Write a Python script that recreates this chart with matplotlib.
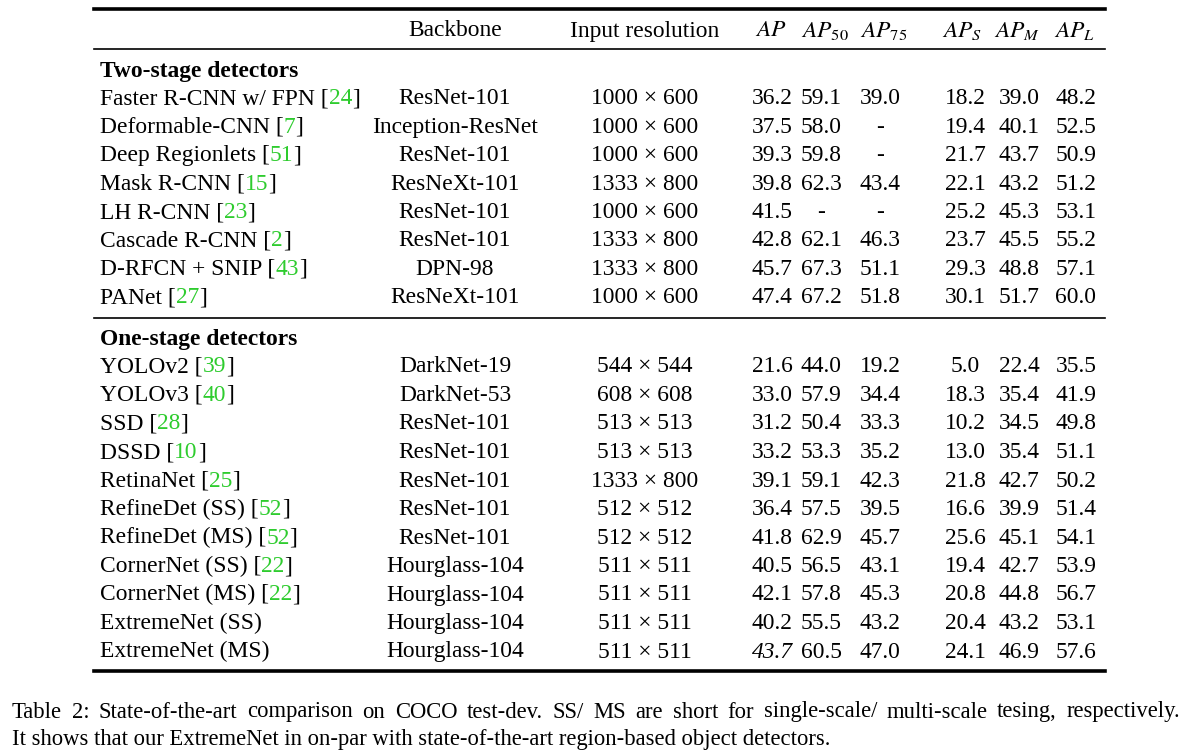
import matplotlib
matplotlib.use("Agg")
import matplotlib.pyplot as plt
from matplotlib.lines import Line2D

plt.rcParams['font.family'] = ['Liberation Serif', 'DejaVu Serif']
plt.rcParams['mathtext.fontset'] = 'stix'

W, H = 1193, 754
GREEN = '#2ecc2e'

# données du tableau
two_methods = ["Faster R-CNN w/ FPN", "Deformable-CNN", "Deep Regionlets", "Mask R-CNN",
               "LH R-CNN", "Cascade R-CNN", "D-RFCN + SNIP", "PANet"]
two_refs = ["24", "7", "51", "15", "23", "2", "43", "27"]
two_backbones = ["ResNet-101", "Inception-ResNet", "ResNet-101", "ResNeXt-101",
                 "ResNet-101", "ResNet-101", "DPN-98", "ResNeXt-101"]
two_res = ["1000 × 600", "1000 × 600", "1000 × 600", "1333 × 800",
           "1000 × 600", "1333 × 800", "1333 × 800", "1000 × 600"]
two_scores = [
    ["36.2", "59.1", "39.0", "18.2", "39.0", "48.2"],
    ["37.5", "58.0", "-", "19.4", "40.1", "52.5"],
    ["39.3", "59.8", "-", "21.7", "43.7", "50.9"],
    ["39.8", "62.3", "43.4", "22.1", "43.2", "51.2"],
    ["41.5", "-", "-", "25.2", "45.3", "53.1"],
    ["42.8", "62.1", "46.3", "23.7", "45.5", "55.2"],
    ["45.7", "67.3", "51.1", "29.3", "48.8", "57.1"],
    ["47.4", "67.2", "51.8", "30.1", "51.7", "60.0"],
]

one_methods = ["YOLOv2", "YOLOv3", "SSD", "DSSD", "RetinaNet", "RefineDet (SS)",
               "RefineDet (MS)", "CornerNet (SS)", "CornerNet (MS)",
               "ExtremeNet (SS)", "ExtremeNet (MS)"]
one_refs = ["39", "40", "28", "10", "25", "52", "52", "22", "22", None, None]
one_backbones = ["DarkNet-19", "DarkNet-53", "ResNet-101", "ResNet-101", "ResNet-101",
                 "ResNet-101", "ResNet-101", "Hourglass-104", "Hourglass-104",
                 "Hourglass-104", "Hourglass-104"]
one_res = ["544 × 544", "608 × 608", "513 × 513", "513 × 513", "1333 × 800",
           "512 × 512", "512 × 512", "511 × 511", "511 × 511", "511 × 511", "511 × 511"]
one_scores = [
    ["21.6", "44.0", "19.2", "5.0", "22.4", "35.5"],
    ["33.0", "57.9", "34.4", "18.3", "35.4", "41.9"],
    ["31.2", "50.4", "33.3", "10.2", "34.5", "49.8"],
    ["33.2", "53.3", "35.2", "13.0", "35.4", "51.1"],
    ["39.1", "59.1", "42.3", "21.8", "42.7", "50.2"],
    ["36.4", "57.5", "39.5", "16.6", "39.9", "51.4"],
    ["41.8", "62.9", "45.7", "25.6", "45.1", "54.1"],
    ["40.5", "56.5", "43.1", "19.4", "42.7", "53.9"],
    ["42.1", "57.8", "45.3", "20.8", "44.8", "56.7"],
    ["40.2", "55.5", "43.2", "20.4", "43.2", "53.1"],
    ["43.7", "60.5", "47.0", "24.1", "46.9", "57.6"],
]

headers = ["$AP$", "$AP_{50}$", "$AP_{75}$", "$AP_S$", "$AP_M$", "$AP_L$"]
caption = ["Table 2: State-of-the-art comparison on COCO test-dev.  SS/ MS are short for single-scale/ multi-scale tesing, respectively.",
           "It shows that our ExtremeNet in on-par with state-of-the-art region-based object detectors."]

fig = plt.figure(figsize=(W / 100, H / 100), dpi=100)
fig.patch.set_facecolor('white')
FS = 16.9
CFS = 16.3
BASE = 7.5  # décalage centre -> ligne de base


def px(x, y):
    return x / W, 1 - y / H


def txt(x, y, s, **kw):
    # y = centre visuel de la ligne, on aligne sur la ligne de base
    kw.setdefault('fontsize', FS)
    kw.setdefault('va', 'baseline')
    return fig.text(*px(x, y + BASE), s, **kw)


def hline(y, lw, x0=94, x1=1105):
    fig.add_artist(Line2D([x0 / W, x1 / W], [1 - y / H, 1 - y / H], color='black', lw=lw))


renderer = fig.canvas.get_renderer()


def method_cell(x, y, name, ref):
    if ref is None:
        txt(x, y, name)
        return
    t = txt(x, y, name + " [")
    x2 = t.get_window_extent(renderer).x1
    t2 = txt(x2, y, ref, color=GREEN)
    x3 = t2.get_window_extent(renderer).x1
    txt(x3, y, "]")


def justified(x0, x1, y, line, fs):
    # ligne justifiée comme dans LaTeX
    words = line.split()
    arts = [txt(0, y, w, fontsize=fs) for w in words]
    widths = [a.get_window_extent(renderer).width for a in arts]
    gap = (x1 - x0 - sum(widths)) / (len(words) - 1)
    x = x0
    for a, w in zip(arts, widths):
        a.set_position(px(x, y + BASE))
        x += w + gap


col_x = [772, 821, 880, 965, 1019, 1076]
hdr_x = [771, 825, 884, 962, 1017, 1075]

hline(9, 2.6)
txt(455, 29, "Backbone", ha='center')
txt(645, 29, "Input resolution", ha='center')
for x, h in zip(hdr_x, headers):
    txt(x, 29, h, ha='center')
hline(49, 1.2)

txt(100, 70, "Two-stage detectors", fontweight='bold')
ys = [97 + i * 28.4 for i in range(len(two_methods))]
for y, m, r, b, res, sc in zip(ys, two_methods, two_refs, two_backbones, two_res, two_scores):
    method_cell(100, y, m, r)
    txt(455, y, b, ha='center')
    txt(645, y, res, ha='center')
    for x, v in zip(col_x, sc):
        txt(x, y, v, ha='center')

hline(318, 1.2)
txt(100, 337, "One-stage detectors", fontweight='bold')
ys = [365 + i * 28.5 for i in range(len(one_methods))]
for i, (y, m, r, b, res, sc) in enumerate(zip(ys, one_methods, one_refs, one_backbones, one_res, one_scores)):
    method_cell(100, y, m, r)
    txt(455, y, b, ha='center')
    txt(645, y, res, ha='center')
    for j, (x, v) in enumerate(zip(col_x, sc)):
        style = 'italic' if (i == len(one_methods) - 1 and j == 0) else 'normal'
        txt(x, y, v, ha='center', style=style)
hline(671, 2.6)

justified(12, 1180, 710, caption[0], CFS)
txt(12, 737, caption[1], fontsize=CFS)

fig.savefig("out.png", dpi=100, facecolor='white')
